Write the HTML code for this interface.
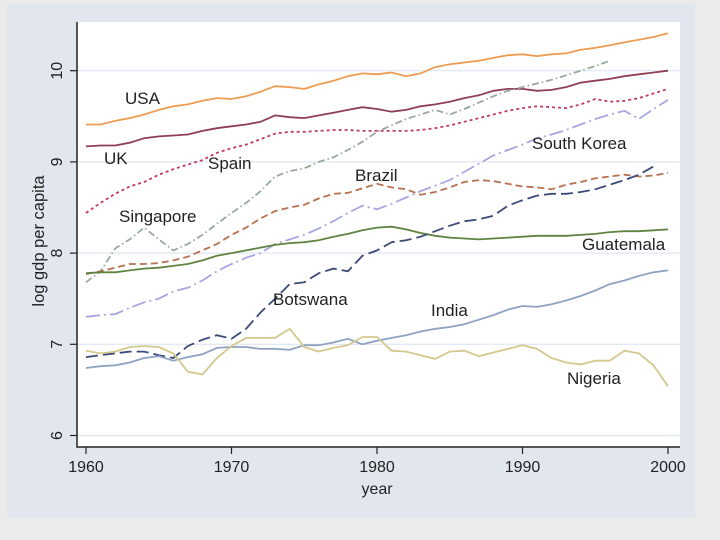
<!DOCTYPE html>
<html><head><meta charset="utf-8"><style>
body{margin:0;background:#e9e9e9;}
svg{display:block;font-family:"Liberation Sans",sans-serif;}
</style></head><body>
<svg width="720" height="540">
<rect x="0" y="0" width="720" height="540" fill="#ebebeb"/>
<rect x="7" y="4" width="688" height="514" fill="#e1e6ef"/>
<rect x="77" y="22" width="603" height="425" fill="#ffffff"/>
<g id="grid"></g><g id="series"></g><g id="axes"></g><g id="labels"></g>
</svg>
<script>
const years=[];for(let y=1960;y<=2000;y++)years.push(y);
const usa=[9.41,9.41,9.45,9.48,9.52,9.57,9.61,9.63,9.67,9.70,9.69,9.72,9.77,9.83,9.82,9.80,9.85,9.89,9.94,9.97,9.96,9.98,9.94,9.97,10.04,10.07,10.09,10.11,10.14,10.17,10.18,10.16,10.18,10.19,10.23,10.25,10.28,10.31,10.34,10.37,10.41];
const uk=[9.17,9.18,9.18,9.21,9.26,9.28,9.29,9.30,9.34,9.37,9.39,9.41,9.44,9.51,9.49,9.48,9.51,9.54,9.57,9.60,9.58,9.55,9.57,9.61,9.63,9.66,9.70,9.73,9.78,9.80,9.80,9.78,9.79,9.82,9.87,9.89,9.91,9.94,9.96,9.98,10.0];
const spain=[8.44,8.55,8.65,8.73,8.78,8.86,8.92,8.97,9.02,9.10,9.15,9.19,9.25,9.31,9.33,9.33,9.34,9.35,9.35,9.34,9.34,9.34,9.34,9.35,9.37,9.40,9.44,9.48,9.52,9.56,9.59,9.61,9.60,9.59,9.63,9.69,9.66,9.67,9.70,9.75,9.80];
const singapore=[7.68,7.80,8.05,8.15,8.28,8.15,8.03,8.10,8.20,8.32,8.44,8.55,8.68,8.84,8.90,8.93,9.00,9.05,9.13,9.22,9.33,9.40,9.47,9.52,9.57,9.52,9.58,9.65,9.72,9.78,9.82,9.86,9.90,9.95,10.00,10.05,10.11,null,null,null,null];
const brazil=[7.77,7.80,7.84,7.88,7.88,7.89,7.92,7.96,8.03,8.10,8.20,8.28,8.38,8.46,8.50,8.53,8.60,8.65,8.66,8.71,8.76,8.72,8.70,8.64,8.67,8.72,8.78,8.80,8.79,8.76,8.73,8.72,8.70,8.75,8.78,8.82,8.84,8.86,8.84,8.85,8.88];
const korea=[7.30,7.32,7.33,7.40,7.46,7.50,7.58,7.62,7.70,7.80,7.88,7.95,8.00,8.10,8.15,8.20,8.27,8.35,8.44,8.52,8.48,8.54,8.61,8.68,8.74,8.80,8.89,8.98,9.07,9.13,9.19,9.26,9.30,9.35,9.41,9.47,9.52,9.56,9.47,9.58,9.68];
const guatemala=[7.78,7.79,7.79,7.81,7.83,7.84,7.86,7.88,7.92,7.97,8.00,8.03,8.06,8.09,8.11,8.12,8.14,8.18,8.21,8.25,8.28,8.29,8.26,8.22,8.19,8.17,8.16,8.15,8.16,8.17,8.18,8.19,8.19,8.19,8.20,8.21,8.23,8.24,8.24,8.25,8.26];
const botswana=[6.86,6.88,6.90,6.92,6.92,6.88,6.85,6.98,7.05,7.10,7.06,7.17,7.35,7.50,7.66,7.68,7.78,7.83,7.80,7.97,8.03,8.12,8.14,8.18,8.24,8.30,8.35,8.37,8.41,8.52,8.58,8.63,8.65,8.65,8.67,8.70,8.75,8.80,8.86,8.95,null];
const india=[6.74,6.76,6.77,6.80,6.85,6.87,6.82,6.86,6.89,6.96,6.97,6.97,6.95,6.95,6.94,6.99,6.99,7.02,7.06,7.00,7.04,7.07,7.10,7.14,7.17,7.19,7.22,7.27,7.32,7.38,7.42,7.41,7.44,7.48,7.53,7.59,7.66,7.70,7.75,7.79,7.81];
const nigeria=[6.93,6.90,6.92,6.97,6.98,6.97,6.90,6.70,6.67,6.85,6.98,7.07,7.07,7.07,7.17,6.97,6.92,6.96,6.99,7.08,7.08,6.93,6.92,6.88,6.84,6.92,6.93,6.87,6.91,6.95,6.99,6.95,6.85,6.80,6.78,6.82,6.82,6.93,6.90,6.77,6.54];
const xTicks=[1960,1970,1980,1990,2000];
const yTicks=[6,7,8,9,10];

const NS='http://www.w3.org/2000/svg';
const X=v=>86+(v-1960)*(668-86)/40;
const Y=v=>70.7+(10-v)*91.2;
function mk(tag,attrs,parent){const e=document.createElementNS(NS,tag);for(const k in attrs)e.setAttribute(k,attrs[k]);parent.appendChild(e);return e;}
const grid=document.getElementById('grid'),axes=document.getElementById('axes'),ser=document.getElementById('series'),lab=document.getElementById('labels');
yTicks.forEach(t=>{
 const g=mk('line',{x1:78,x2:680,y1:Y(t),y2:Y(t),stroke:'#dfe6f2','stroke-width':1.2},grid);
 
 
 const tk=mk('line',{x1:70,x2:77,y1:Y(t),y2:Y(t),stroke:'#222','stroke-width':1.2},axes);
 
 
 const tx=mk('text',{x:0,y:0,transform:`translate(62,${Y(t)}) rotate(-90)`,'text-anchor':'middle','font-size':16,fill:'#222'},axes);
 tx.textContent=t;
 
 
});
xTicks.forEach(t=>{
 const tk=mk('line',{x1:X(t),x2:X(t),y1:447,y2:454,stroke:'#222','stroke-width':1.2},axes);
 
 
 const tx=mk('text',{x:X(t),y:472,'text-anchor':'middle','font-size':16,fill:'#222'},axes);
 tx.textContent=t;
 
 
});
const ax=mk('path',{d:'M77,22 L77,447 L680,447',fill:'none',stroke:'#222','stroke-width':1.5},axes);


const xt=mk('text',{x:377,y:494,'text-anchor':'middle','font-size':16,fill:'#222'},axes);
xt.textContent='year';


const yt=mk('text',{x:0,y:0,transform:'translate(44,241) rotate(-90)','text-anchor':'middle','font-size':16.5,fill:'#222'},axes);
yt.textContent='log gdp per capita';



const series=[
 ['usa',usa,'#ec9d52',''],['uk',uk,'#8e3f55',''],['spain',spain,'#c23a62','3,3'],
 ['singapore',singapore,'#98a89c','7,3,1.5,3'],['brazil',brazil,'#b8704e','7,4'],
 ['south-korea',korea,'#a8a6e2','14,4,2,4'],['guatemala',guatemala,'#5f8442',''],
 ['botswana',botswana,'#3b4a78','12,5'],['india',india,'#8ea2c2',''],['nigeria',nigeria,'#d4c88e','']];
series.forEach(([n,vals,col,dash])=>{
 let d='';let pen=false;
 vals.forEach((v,i)=>{if(v==null){pen=false;return;}d+=(pen?'L':'M')+X(years[i]).toFixed(1)+','+Y(v).toFixed(1);pen=true;});
 const p=mk('path',{d:d,fill:'none',stroke:col,'stroke-width':1.8,'stroke-dasharray':dash||'none'},ser);
 
 
});
const labels=[['USA',125,104],['UK',104,164],['Spain',208,169],['Singapore',119,222],['Brazil',355,181],['South Korea',532,149],['Guatemala',582,250],['Botswana',273,305],['India',431,316],['Nigeria',567,384]];
labels.forEach(([t,x,y])=>{
 const e=mk('text',{x:x,y:y,'font-size':17,fill:'#222'},lab);
 e.textContent=t;
 
 
});
</script>
</body></html>
